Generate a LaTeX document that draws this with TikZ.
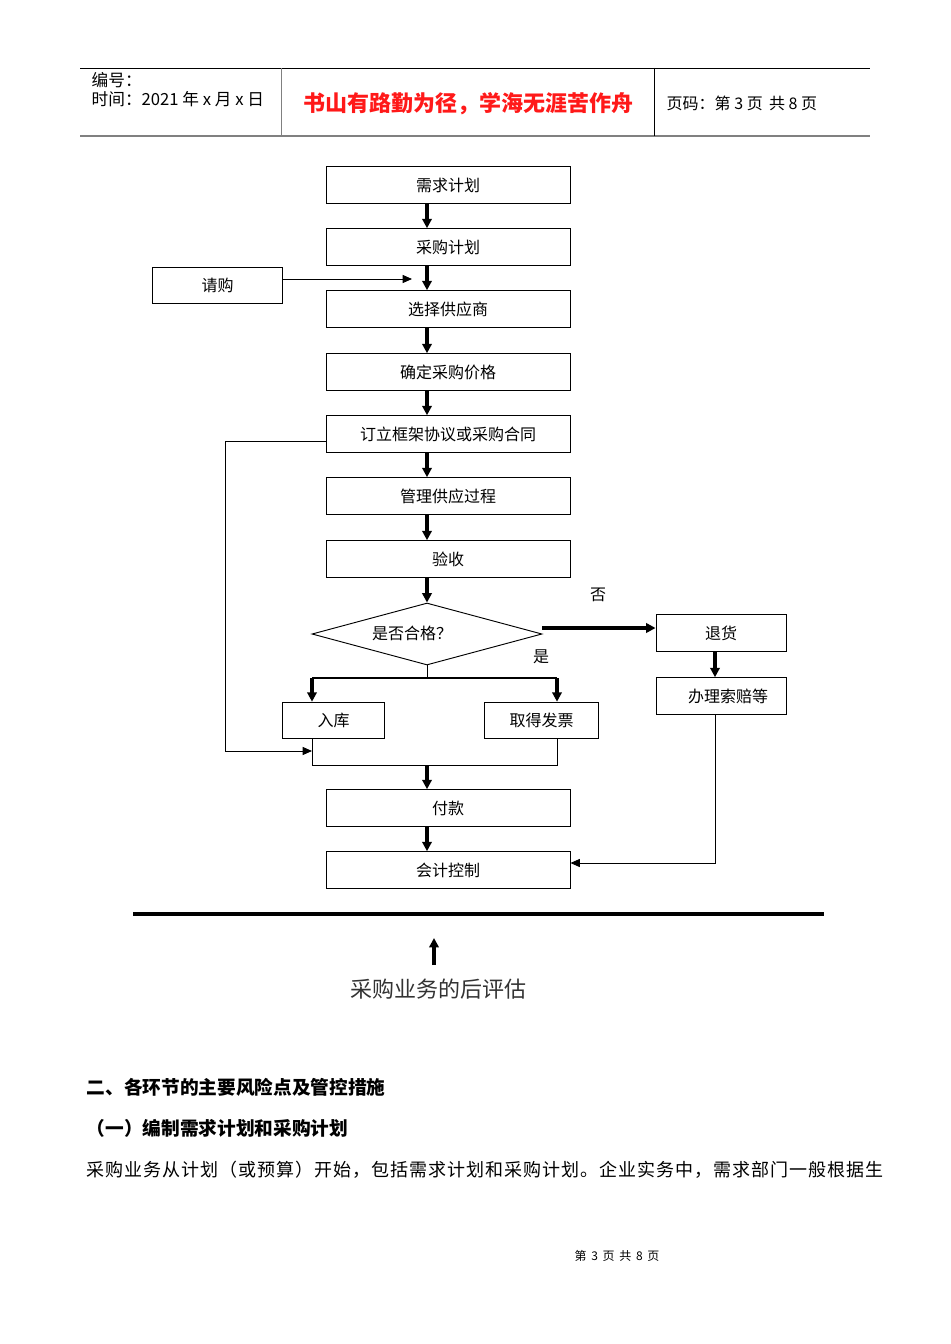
\documentclass[tikz,border=0pt]{standalone}
\usepackage{fontspec}
\setmainfont{Liberation Sans}
\newfontfamily\cjk{Noto Sans CJK SC}
\usetikzlibrary{shapes.geometric,arrows.meta}
\begin{document}
\begin{tikzpicture}[x=0.75pt,y=-0.75pt,
  box/.style={draw,line width=0.7pt,inner sep=0pt,font=\cjk\fontsize{12}{14}\selectfont},
  ar/.style={line width=2.4pt,-{Triangle[length=7pt,width=7pt]}},
  tn/.style={line width=0.7pt,-{Triangle[length=7pt,width=6pt]}},
  ln/.style={line width=0.7pt}]
\useasboundingbox (0,0) rectangle (950,1344);
% header
\draw[line width=0.6pt] (80,68) -- (870,68);
\draw[line width=1.2pt,gray] (80,136) -- (870,136);
\draw[line width=0.6pt,gray] (281,68) -- (281,136);
\draw[line width=0.6pt] (654,68) -- (654,136);
\node[anchor=west,font=\cjk\fontsize{12.5}{14}\selectfont] (h1) at (87,80) {编号：};
\node[anchor=west,font=\cjk\fontsize{12.5}{14}\selectfont] (h2) at (87,99) {时间：2021 年 x 月 x 日};
\node[font=\cjk\bfseries\fontsize{16.5}{18}\selectfont,text=red!90!white] (h3) at (468,104) {书山有路勤为径，学海无涯苦作舟};
\node[anchor=west,font=\cjk\fontsize{12}{14}\selectfont] (h4) at (662,103) {页码：第 3 页 \,共 8 页};
% boxes
\foreach \n/\y/\t in {a/185/需求计划,b/247/采购计划,c/309/选择供应商,d/372/确定采购价格,e/434/订立框架协议或采购合同,f/496/管理供应过程,g/559/验收,p/808/付款,q/870/会计控制}
  \node[box,minimum width=183pt,minimum height=27.5pt] (\n) at (448,\y) {\t};
\node[box,minimum width=97pt,minimum height=27pt] (r) at (217.5,285) {请购};
\node[box,minimum width=97.5pt,minimum height=27.5pt] (t) at (721,633) {退货};
\node[box,minimum width=97.5pt,minimum height=27.5pt,anchor=west] (s) at (656,696) {\hspace{10pt}办理索赔等};
\node[box,minimum width=76pt,minimum height=27.5pt] (u) at (333.5,720.5) {入库};
\node[box,minimum width=86pt,minimum height=27.5pt] (v) at (541.5,720.5) {取得发票};
\node[draw,diamond,aspect=3.7,line width=0.7pt,minimum width=172.5pt,minimum height=46.5pt,inner sep=0pt] (dm) at (427,634) {};
\node[font=\cjk\fontsize{12}{14}\selectfont] (dt) at (412,633) {是否合格？};
\node[font=\cjk\fontsize{12}{14}\selectfont] (no) at (598,595) {否};
\node[font=\cjk\fontsize{12}{14}\selectfont] (yes) at (541,657) {是};
% arrows main chain
\foreach \u/\w in {a/b,b/c,c/d,d/e,e/f,f/g,p/q}
  \draw[ar] (\u.south -| 427,0) -- (\w.north -| 427,0);
\draw[ar] (g.south -| 427,0) -- (dm.north);
\coordinate (rj) at (412,279);
\draw[tn] (r.east |- rj) -- (rj);
\draw[ar] (dm.east |- 0,628) -- (t.west |- 0,628);
\draw[ar] (t.south -| 715,0) -- (s.north -| 715,0);
% yes branch
\coordinate (bl) at (312,678); \coordinate (br) at (557,678);
\draw[ln] (dm.south) -- (427,678);
\draw[line width=1.2pt] (bl) -- (br);
\draw[ar] (bl) -- (u.north -| bl);
\draw[ar] (br) -- (v.north -| br);
\coordinate (ml) at (312,765); \coordinate (mr) at (557,765);
\draw[ln] (u.south -| ml) -- (ml) -- (mr) -- (v.south -| mr);
\draw[ar] (427,765) -- (p.north -| 427,0);
% feedback
\coordinate (fb1) at (225,441); \coordinate (fb2) at (225,751); \coordinate (fb3) at (312,751);
\draw[tn] (e.west |- fb1) -- (fb1) -- (fb2) -- (fb3);
\coordinate (cl) at (715,863);
\draw[tn] (s.south -| cl) -- (cl) -- (q.east |- cl);
% bottom
\draw[line width=2.4pt] (133,914) -- (824,914);
\coordinate (up1) at (434,965); \coordinate (up2) at (434,938);
\draw[ar] (up1) -- (up2);
\node[font=\cjk\fontsize{16.5}{20}\selectfont,text=black!80] (pe) at (438,989) {采购业务的后评估};
\node[anchor=west,font=\cjk\bfseries\fontsize{14}{16}\selectfont] (t1) at (82,1087) {二、各环节的主要风险点及管控措施};
\node[anchor=west,font=\cjk\bfseries\fontsize{14}{16}\selectfont] (t2) at (82,1128) {（一）编制需求计划和采购计划};
\node[anchor=west,font=\cjk\fontsize{13.5}{16}\selectfont\addfontfeature{LetterSpace=5.5}] (t3) at (82,1170) {采购业务从计划（或预算）开始，包括需求计划和采购计划。企业实务中，需求部门一般根据生};
\node[font=\cjk\fontsize{9}{11}\selectfont] (ft) at (617,1256) {第 \,3 \,页 \,共 \,8 \,页};
\end{tikzpicture}
\end{document}
